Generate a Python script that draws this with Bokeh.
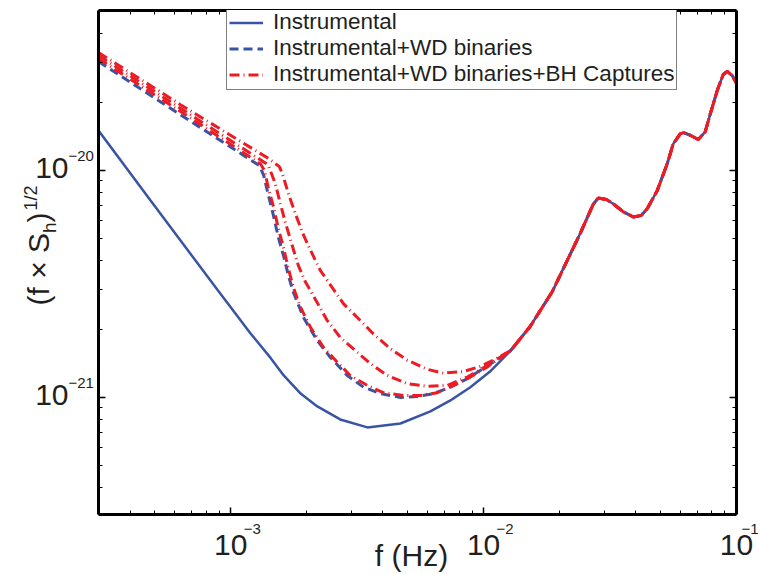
import math
from bokeh.plotting import figure
from bokeh.layouts import row, column
from bokeh.models import Range1d, LogAxis, FixedTicker, Legend, LegendItem, Label
from bokeh.embed import file_html
from bokeh.resources import INLINE

# ---------------- data ----------------
# Instrumental noise, low-frequency part (Hz, strain)
f_instr = [3.00e-4, 4.82e-4, 8.86e-4, 1.20e-3, 1.44e-3, 1.62e-3, 1.89e-3, 2.20e-3,
           2.71e-3, 3.47e-3, 4.69e-3, 6.16e-3, 7.39e-3, 8.86e-3, 1.06e-2]
v_instr = [1.50e-20, 7.38e-21, 2.98e-21, 1.91e-21, 1.49e-21, 1.25e-21, 1.04e-21, 9.13e-22,
           8.00e-22, 7.38e-22, 7.68e-22, 8.68e-22, 9.70e-22, 1.11e-21, 1.30e-21]

# Instrumental + WD binaries (blue dashed), low-frequency part
f_wd = [3.00e-4, 6.33e-4, 1.30e-3, 1.35e-3, 1.41e-3, 1.475e-3, 1.54e-3, 1.62e-3,
        1.69e-3, 1.77e-3, 1.94e-3, 2.20e-3, 2.48e-3, 2.89e-3, 3.35e-3, 3.91e-3,
        4.69e-3, 5.47e-3, 6.33e-3, 7.39e-3, 8.62e-3, 9.97e-3]
v_wd = [3.02e-20, 1.76e-20, 1.05e-20, 9.51e-21, 7.76e-21, 6.34e-21, 5.12e-21, 4.18e-21,
        3.45e-21, 2.90e-21, 2.25e-21, 1.78e-21, 1.50e-21, 1.25e-21, 1.11e-21, 1.04e-21,
        1.00e-21, 1.01e-21, 1.04e-21, 1.11e-21, 1.21e-21, 1.34e-21]

# Instrumental + WD binaries + BH captures: three capture scenarios (red dash-dot)
f_bh1 = [3.00e-4, 6.33e-4, 1.31e-3, 1.36e-3, 1.41e-3, 1.475e-3, 1.54e-3, 1.62e-3,
         1.69e-3, 1.77e-3, 1.89e-3, 2.07e-3, 2.33e-3, 2.64e-3, 2.97e-3, 3.47e-3,
         4.01e-3, 4.82e-3, 5.62e-3, 6.56e-3, 7.59e-3, 8.86e-3, 1.03e-2]
v_bh1 = [3.11e-20, 1.82e-20, 1.07e-20, 1.00e-20, 8.33e-21, 6.94e-21, 5.61e-21, 4.53e-21,
         3.70e-21, 3.05e-21, 2.49e-21, 2.03e-21, 1.66e-21, 1.43e-21, 1.25e-21, 1.13e-21,
         1.05e-21, 1.02e-21, 1.02e-21, 1.05e-21, 1.13e-21, 1.23e-21, 1.36e-21]

f_bh2 = [3.00e-4, 6.33e-4, 1.37e-3, 1.41e-3, 1.50e-3, 1.57e-3, 1.645e-3, 1.75e-3,
         1.85e-3, 1.97e-3, 2.14e-3, 2.41e-3, 2.71e-3, 3.17e-3, 3.57e-3, 4.16e-3,
         4.99e-3, 5.99e-3, 7.19e-3, 8.62e-3, 1.03e-2]
v_bh2 = [3.21e-20, 1.88e-20, 1.08e-20, 1.05e-20, 8.76e-21, 7.16e-21, 5.90e-21, 4.67e-21,
         3.82e-21, 3.24e-21, 2.76e-21, 2.18e-21, 1.84e-21, 1.58e-21, 1.41e-21, 1.25e-21,
         1.15e-21, 1.12e-21, 1.13e-21, 1.23e-21, 1.38e-21]

f_bh3 = [3.00e-4, 6.33e-4, 1.41e-3, 1.557e-3, 1.60e-3, 1.69e-3, 1.80e-3, 1.92e-3,
         2.07e-3, 2.26e-3, 2.52e-3, 2.79e-3, 3.26e-3, 3.66e-3, 4.28e-3, 4.99e-3,
         5.99e-3, 6.93e-3, 8.31e-3, 9.71e-3, 1.13e-2]
v_bh3 = [3.31e-20, 1.95e-20, 1.13e-20, 1.04e-20, 9.70e-21, 7.92e-21, 6.47e-21, 5.33e-21,
         4.44e-21, 3.63e-21, 3.05e-21, 2.59e-21, 2.18e-21, 1.91e-21, 1.64e-21, 1.46e-21,
         1.33e-21, 1.28e-21, 1.30e-21, 1.37e-21, 1.49e-21]

# High-frequency part shared by all curves (instrumental dominates)
f_common = [1.28e-2, 1.53e-2, 1.87e-2, 2.14e-2, 2.41e-2, 2.71e-2, 2.84e-2, 3.06e-2,
            3.26e-2, 3.57e-2, 3.91e-2, 4.20e-2, 4.44e-2, 4.86e-2, 5.32e-2, 5.62e-2,
            5.99e-2, 6.18e-2, 6.56e-2, 7.06e-2, 7.52e-2, 7.87e-2, 8.39e-2, 8.86e-2,
            9.19e-2, 9.62e-2, 1.00e-1]
v_common = [1.61e-21, 2.06e-21, 2.93e-21, 4.01e-21, 5.28e-21, 7.08e-21, 7.57e-21, 7.45e-21,
            7.12e-21, 6.57e-21, 6.24e-21, 6.34e-21, 6.80e-21, 8.16e-21, 1.07e-20, 1.31e-20,
            1.45e-20, 1.47e-20, 1.43e-20, 1.37e-20, 1.48e-20, 1.77e-20, 2.25e-20, 2.65e-20,
            2.73e-20, 2.62e-20, 2.42e-20]

legend_labels = ["Instrumental", "Instrumental+WD binaries",
                 "Instrumental+WD binaries+BH Captures"]

x_major = [1e-3, 1e-2, 1e-1]
x_exponents = ["\u22123", "\u22122", "\u22121"]
y_major = [1e-21, 1e-20]
y_exponents = ["\u221221", "\u221220"]
x_title = "f (Hz)"
y_title_parts = ["(f \u00d7 S", "h", ")", "1/2"]

# ---------------- geometry / style ----------------
BLUE = "#3a54a5"
RED = "#ed1c24"
FONT = "Liberation Sans"
TXT = "#231f20"
MID = 0.3465          # baseline lies this many em below the "middle" anchor

W, H = 760, 574
X0, X1 = 3.0e-4, 0.1
Y0, Y1 = 3.05e-22, 5.07e-20
FX0, FX1, FY0, FY1 = 98, 736, 10, 514   # main frame edges in page pixels
LEFT_W = 94                               # width of the left text strip
BOT_Y = 518                               # top of the bottom text strip
XL, XR = math.log10(X0), math.log10(X1)
YB, YT = math.log10(Y0), math.log10(Y1)


def dx(X):   # page x pixel -> frequency
    return 10 ** (XL + (X - FX0) / (FX1 - FX0) * (XR - XL))


def dy(Y):   # page y pixel -> strain
    return 10 ** (YB + (FY1 - Y) / (FY1 - FY0) * (YT - YB))


def px_x(v):
    return FX0 + (math.log10(v) - XL) / (XR - XL) * (FX1 - FX0)


def px_y(v):
    return FY1 - (math.log10(v) - YB) / (YT - YB) * (FY1 - FY0)


def style_blank(fig):
    fig.outline_line_color = None
    fig.background_fill_color = "white"
    fig.border_fill_color = "white"
    fig.grid.visible = False


# ---------------- main plot ----------------
p = figure(width=W - LEFT_W, height=BOT_Y, x_axis_type="log", y_axis_type="log",
           x_range=Range1d(X0, X1), y_range=Range1d(Y0, Y1),
           output_backend="svg", toolbar_location=None,
           min_border_left=FX0 - LEFT_W, min_border_right=W - FX1,
           min_border_top=FY0, min_border_bottom=BOT_Y - FY1)
style_blank(p)

x_minor = [k * 10.0 ** e for e in range(-4, -1) for k in range(2, 10)
           if X0 <= k * 10.0 ** e <= X1]
y_minor = [k * 10.0 ** e for e in range(-22, -19) for k in range(2, 10)
           if Y0 <= k * 10.0 ** e <= Y1]
xt = FixedTicker(ticks=x_major, minor_ticks=x_minor)
yt = FixedTicker(ticks=y_major, minor_ticks=y_minor)

top_axis = LogAxis()
right_axis = LogAxis()
p.add_layout(top_axis, "above")
p.add_layout(right_axis, "right")
bottom_axis = p.below[0]
left_axis = p.left[0]
for ax in (bottom_axis, top_axis):
    ax.ticker = xt
for ax in (left_axis, right_axis):
    ax.ticker = yt
for ax in (bottom_axis, top_axis, left_axis, right_axis):
    ax.axis_line_width = 3
    ax.axis_line_color = "black"
    ax.major_tick_in = 7
    ax.major_tick_out = 0
    ax.minor_tick_in = 4
    ax.minor_tick_out = 0
    ax.major_tick_line_width = 1.5
    ax.minor_tick_line_width = 1
    ax.major_label_text_font_size = "1px"
    ax.major_label_text_alpha = 0
    ax.major_label_standoff = 0

r_instr = p.line(f_instr + f_common, v_instr + v_common, line_color=BLUE, line_width=2.5)
r_wd = p.line(f_wd + f_common, v_wd + v_common, line_color=BLUE, line_width=3,
              line_dash="9 5")
red_kw = dict(line_color=RED, line_width=3, line_dash="10 4 1 4")
r_bh1 = p.line(f_bh1 + f_common, v_bh1 + v_common, **red_kw)
r_bh2 = p.line(f_bh2 + f_common, v_bh2 + v_common, **red_kw)
r_bh3 = p.line(f_bh3 + f_common, v_bh3 + v_common, **red_kw)

legend = Legend(items=[LegendItem(label=legend_labels[0], renderers=[r_instr]),
                       LegendItem(label=legend_labels[1], renderers=[r_wd]),
                       LegendItem(label=legend_labels[2], renderers=[r_bh1])],
                location=(128, 424))
legend.label_text_font = FONT
legend.label_text_font_size = "22.5px"
legend.label_text_color = TXT
legend.padding = 2
legend.spacing = -4
legend.margin = 0
legend.glyph_width = 34
legend.glyph_height = 21
legend.label_height = 21
legend.label_standoff = 10
legend.border_line_color = "black"
legend.border_line_width = 1.5
legend.background_fill_alpha = 1
p.add_layout(legend)


def text(fig, x, y, t, size, align="left", angle=0.0):
    fig.add_layout(Label(x=x, y=y, text=t, text_align=align, angle=angle,
                         text_baseline="middle", text_font=FONT,
                         text_font_size="%gpx" % size, text_color=TXT))


# ---------------- left strip: y tick labels and y title ----------------
lf = figure(width=LEFT_W, height=BOT_Y, y_axis_type="log",
            x_range=Range1d(0, LEFT_W), y_range=Range1d(Y0, Y1),
            x_axis_location=None, y_axis_location=None,
            output_backend="svg", toolbar_location=None,
            min_border_left=0, min_border_right=0,
            min_border_top=FY0, min_border_bottom=BOT_Y - FY1)
style_blank(lf)

for v, e in zip(y_major, y_exponents):
    Y = px_y(v)
    text(lf, 68, dy(Y + 8 - MID * 30), "10", 30, "right")
    text(lf, 68, dy(Y - 9 - MID * 15), e, 15, "left")

rot = math.pi / 2
# (text, baseline x, start y, size) -- rotated text reads bottom to top
for t, X, Y, s in zip(y_title_parts, [48, 56, 48, 37], [305, 232.5, 222, 210],
                      [30, 19, 30, 18]):
    text(lf, X - MID * s, dy(Y), t, s, "left", rot)

# ---------------- bottom strip: x tick labels and x title ----------------
bf = figure(width=W, height=H - BOT_Y, x_axis_type="log",
            x_range=Range1d(dx(0), dx(W)), y_range=Range1d(H, BOT_Y),
            x_axis_location=None, y_axis_location=None,
            output_backend="svg", toolbar_location=None,
            min_border_left=0, min_border_right=0,
            min_border_top=0, min_border_bottom=0)
style_blank(bf)

EXP_W = 18   # approximate width of a 15px exponent such as "-1"
for v, e in zip(x_major, x_exponents):
    X = px_x(v)
    text(bf, v, 555 - MID * 30, "10", 30, "center")
    text(bf, dx(min(X + 13, W - 1 - EXP_W)), 534 - MID * 15, e, 15, "left")
text(bf, dx(411), 565 - MID * 30, x_title, 30, "center")

layout = column(row(lf, p, spacing=0), bf, spacing=0)
open("out.html", "w").write(file_html(layout, INLINE))
